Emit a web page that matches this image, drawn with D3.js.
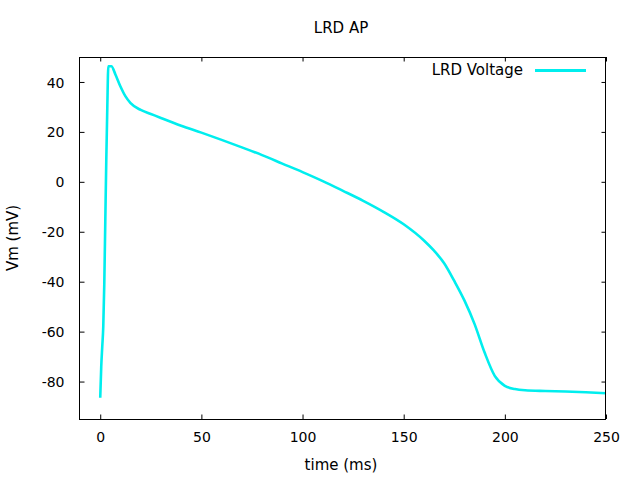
<!DOCTYPE html>
<html>
<head>
<meta charset="utf-8">
<script src="https://cdn.jsdelivr.net/npm/d3@7/dist/d3.min.js"></script>
<style>
  html, body { margin: 0; padding: 0; background: #fff; }
  text { font-family: "DejaVu Sans", sans-serif; fill: #000; }
</style>
</head>
<body>
<svg id="chart" width="640" height="480"></svg>
<script>
// ---- data ----
const timeMs = [0, 0.5, 1, 1.5, 2, 2.5, 3, 3.5, 4, 5.5, 7.5, 10, 12.5, 15, 20, 25, 30, 40, 50, 60, 70, 80, 90, 100, 110, 120, 130, 140, 150, 160, 165, 170, 175, 180, 185, 190, 195, 200, 205, 210, 220, 230, 240, 250];
const voltage = [-86.5, -74, -66, -58, -41, -16, 9, 30, 46.3, 46.3, 43, 38.2, 34.2, 31.5, 28.8, 27.2, 25.6, 22.5, 19.7, 16.8, 13.8, 10.7, 7.3, 3.9, 0.3, -3.6, -7.6, -12.0, -17.0, -23.5, -27.6, -32.6, -39.7, -47.5, -56.9, -68.4, -77.7, -81.7, -83.0, -83.5, -83.8, -84.0, -84.3, -84.7];
const xTicks = [0, 50, 100, 150, 200, 250];
const yTicks = [-80, -60, -40, -20, 0, 20, 40];
const xDomain = [-10, 250];
const yDomain = [-95, 50];
const titleText = "LRD AP";
const xLabel = "time (ms)";
const yLabel = "Vm (mV)";
const seriesName = "LRD Voltage";

// ---- layout ----
const svg = d3.select("#chart");
const L = 80, R = 606, T = 57, B = 419;
const color = "#00eeee";

const x = d3.scaleLinear().domain(xDomain).range([L, R]);
const y = d3.scaleLinear().domain(yDomain).range([B, T]);

svg.append("rect").attr("width", 640).attr("height", 480).attr("fill", "#fff");

// ticks (inward, mirrored)
const tickLen = 4.5;
const tickFmt = d => String(d);
const axB = d3.axisBottom(x).tickValues(xTicks).tickSizeInner(-tickLen).tickSizeOuter(0).tickFormat(tickFmt);
const axT = d3.axisTop(x).tickValues(xTicks).tickSizeInner(-tickLen).tickSizeOuter(0).tickFormat("");
const axL = d3.axisLeft(y).tickValues(yTicks).tickSizeInner(-tickLen).tickSizeOuter(0).tickFormat(tickFmt);
const axR = d3.axisRight(y).tickValues(yTicks).tickSizeInner(-tickLen).tickSizeOuter(0).tickFormat("");

function style(g) {
  g.select(".domain").remove();
  g.selectAll(".tick line").attr("stroke", "#000").attr("stroke-width", 1);
  g.selectAll(".tick text").attr("font-family", "DejaVu Sans").attr("font-size", 14).attr("fill", "#000");
}
const gB = svg.append("g").attr("transform", `translate(0,${B})`).call(axB).call(style);
gB.selectAll(".tick text").attr("y", 0).attr("dy", 0).attr("transform", "translate(0,23)");
const gT = svg.append("g").attr("transform", `translate(0,${T})`).call(axT).call(style);
const gL = svg.append("g").attr("transform", `translate(${L},0)`).call(axL).call(style);
gL.selectAll(".tick text").attr("x", -15.5).attr("dy", "0.36em");
const gR = svg.append("g").attr("transform", `translate(${R},0)`).call(axR).call(style);

// line
const line = d3.line().x((d, i) => x(timeMs[i])).y(d => y(d)).curve(d3.curveMonotoneX);
svg.append("path")
  .datum(voltage)
  .attr("d", line)
  .attr("fill", "none")
  .attr("stroke", color)
  .attr("stroke-width", 2.6)
  .attr("stroke-linejoin", "round");

// frame
svg.append("rect")
  .attr("x", L - 0.5).attr("y", T + 0.5)
  .attr("width", R - L).attr("height", B - T)
  .attr("fill", "none").attr("stroke", "#000").attr("stroke-width", 1);

// title
svg.append("text").attr("x", 341).attr("y", 33).attr("text-anchor", "middle")
  .attr("font-size", 15).text(titleText);
// axis labels
svg.append("text").attr("x", 341).attr("y", 470).attr("text-anchor", "middle")
  .attr("font-size", 15).text(xLabel);
svg.append("text").attr("transform", "translate(18,238) rotate(-90)").attr("text-anchor", "middle")
  .attr("font-size", 15).text(yLabel);

// legend
svg.append("text").attr("x", 523).attr("y", 75).attr("text-anchor", "end")
  .attr("font-size", 15).text(seriesName);
svg.append("line").attr("x1", 535).attr("x2", 586).attr("y1", 70.5).attr("y2", 70.5)
  .attr("stroke", color).attr("stroke-width", 3);
</script>
</body>
</html>
